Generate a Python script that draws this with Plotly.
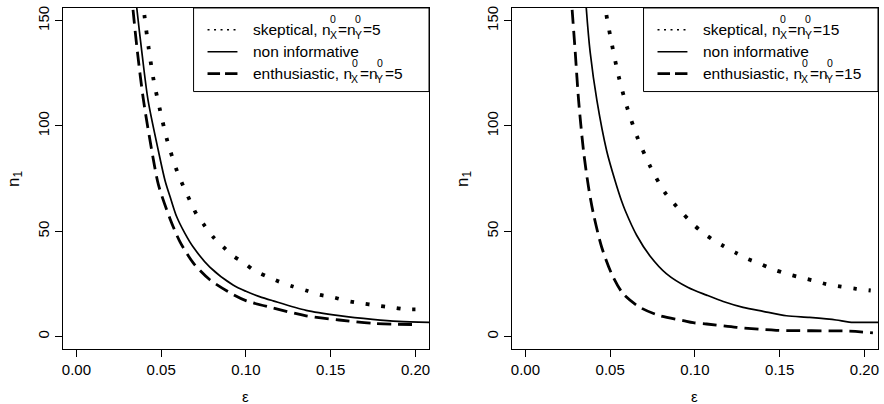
import plotly.graph_objects as go

W, H = 884, 404

# ---------------- data ----------------
# left panel: n0_X = n0_Y = 5
eps_L_skep = [0.0392, 0.0401, 0.0425, 0.0454, 0.0494, 0.0537, 0.0595, 0.0631, 0.0670, 0.0709,
              0.0758, 0.0807, 0.0865, 0.0924, 0.0989, 0.1053, 0.1126, 0.1199, 0.1277, 0.1355,
              0.1430, 0.1518, 0.1594, 0.1682, 0.1769, 0.1855, 0.1940, 0.2035]
n_L_skep = [160, 152.6, 137.6, 122.4, 107.2, 92.7, 78.2, 71.3, 64.5, 58.0,
            52.5, 47.3, 42.7, 38.3, 35.0, 31.2, 28.5, 26.0, 23.8, 21.9,
            19.9, 18.6, 17.0, 15.8, 14.8, 13.9, 13.0, 12.9]

eps_L_noninf = [0.0345, 0.0356, 0.0386, 0.0423, 0.0484, 0.0523, 0.0558, 0.0591, 0.0640, 0.0689,
                0.0787, 0.0924, 0.1000, 0.1080, 0.1160, 0.1355, 0.1550, 0.1747, 0.1900, 0.2080]
n_L_noninf = [165, 156, 135, 112, 88, 74, 65, 57, 49, 42.5,
              33, 24.5, 21.5, 19, 17, 12.5, 10, 8.2, 7.2, 6.8]

eps_L_enth = [0.0325, 0.0333, 0.0360, 0.0396, 0.0454, 0.0484, 0.0552, 0.0611, 0.0689, 0.0787,
              0.0924, 0.1003, 0.1160, 0.1355, 0.1550, 0.1750, 0.2020]
n_L_enth = [165, 156, 135, 112, 84, 72, 56, 45, 35, 27,
            20, 17, 13.6, 9.9, 7.9, 6.3, 5.7]

# right panel: n0_X = n0_Y = 15
eps_R_skep = [0.0472, 0.0476, 0.0510, 0.0549, 0.0598, 0.0659, 0.0735, 0.0820, 0.0873, 0.0925,
              0.0980, 0.1039, 0.1102, 0.1171, 0.1239, 0.1310, 0.1384, 0.1459, 0.1535, 0.1618,
              0.1700, 0.1776, 0.1863, 0.1951, 0.2037]
n_R_skep = [160, 153.9, 138.9, 123.9, 109.3, 94.9, 81.0, 68.7, 63.5, 58.8,
            54.1, 49.8, 46.2, 42.9, 39.9, 36.9, 34.6, 32.0, 30.0, 28.2,
            26.6, 24.9, 23.7, 22.7, 21.9]

eps_R_noninf = [0.0352, 0.0359, 0.0382, 0.0422, 0.0480, 0.0529, 0.0569, 0.0588, 0.0657, 0.0735,
                0.0833, 0.0960, 0.1069, 0.1167, 0.1284, 0.1402, 0.1540, 0.1676, 0.1833, 0.1910, 0.2080]
n_R_noninf = [165, 156, 135, 112, 88, 74, 64, 60, 48, 38.3,
              29.8, 23.3, 19.7, 16.7, 13.9, 12.0, 9.9, 9.1, 7.9, 6.9, 6.8]

eps_R_enth = [0.0268, 0.0275, 0.0294, 0.0314, 0.0343, 0.0373, 0.0402, 0.0451, 0.0510, 0.0578,
              0.0676, 0.0794, 0.0931, 0.0990, 0.1069, 0.1245, 0.1480, 0.1910, 0.2050]
n_R_enth = [165, 156, 135, 112, 88, 70.6, 58, 42.2, 29.6, 20.2,
            13.9, 9.9, 7.6, 6.6, 6.0, 4.4, 3.0, 2.6, 1.8]

x_ticks = [0.00, 0.05, 0.10, 0.15, 0.20]
y_ticks = [0, 50, 100, 150]
x_range = [-0.008, 0.208]
y_range = [-6, 156]

legend_labels = [("skeptical, n", "=n", "=5"), "non informative", ("enthusiastic, n", "=n", "=5")]
legend_labels_R = [("skeptical, n", "=n", "=15"), "non informative", ("enthusiastic, n", "=n", "=15")]

# ---------------- styles ----------------
FONT = "Liberation Sans"
DOT = dict(color="black", width=3.8, dash="3.6px,12px", shape="spline", smoothing=0.8)
SOLID = dict(color="black", width=1.7, shape="spline", smoothing=0.8)
DASH = dict(color="black", width=2.8, dash="14px,7px", shape="spline", smoothing=0.8)

fig = go.Figure()
for xa, ya, series in [
    ("x", "y", [(eps_L_skep, n_L_skep, DOT), (eps_L_noninf, n_L_noninf, SOLID), (eps_L_enth, n_L_enth, DASH)]),
    ("x2", "y2", [(eps_R_skep, n_R_skep, DOT), (eps_R_noninf, n_R_noninf, SOLID), (eps_R_enth, n_R_enth, DASH)]),
]:
    for ex, ny, st in series:
        fig.add_trace(go.Scatter(x=ex, y=ny, mode="lines", line=st, xaxis=xa, yaxis=ya,
                                 showlegend=False, hoverinfo="skip"))

def px(x):
    return x / W

def py(y):
    return 1 - y / H

axis_common = dict(showgrid=False, zeroline=False, showline=True, mirror=True, linecolor="black",
                   linewidth=1, ticks="outside", ticklen=7, tickwidth=1, tickcolor="black",
                   tickfont=dict(family=FONT, size=15, color="black"))

fig.update_layout(
    width=W, height=H, margin=dict(l=0, r=0, t=0, b=0),
    paper_bgcolor="white", plot_bgcolor="white",
    xaxis=dict(domain=[px(62), px(429)], range=x_range, tickvals=x_ticks, tickformat=".2f", anchor="y", **axis_common),
    yaxis=dict(domain=[py(349), py(6)], range=y_range, tickvals=y_ticks, tickangle=-90, anchor="x", **axis_common),
    xaxis2=dict(domain=[px(512), px(879)], range=x_range, tickvals=x_ticks, tickformat=".2f", anchor="y2", **axis_common),
    yaxis2=dict(domain=[py(349), py(6)], range=y_range, tickvals=y_ticks, tickangle=-90, anchor="x2", **axis_common),
)

annotations = []
shapes = []

# axis titles
for cx_plot, cx_ylab in [(245.5, 14), (695.5, 464)]:
    annotations.append(dict(text="ε", x=px(cx_plot), y=py(396), xref="paper", yref="paper",
                            showarrow=False, font=dict(family=FONT, size=15, color="black"),
                            xanchor="center", yanchor="middle"))
    annotations.append(dict(text="n<sub>1</sub>", x=px(cx_ylab), y=py(178), xref="paper", yref="paper",
                            showarrow=False, textangle=-90, font=dict(family=FONT, size=17, color="black"),
                            xanchor="center", yanchor="middle"))

# simple Helvetica/Arial width table (per 1000 em)
CW = {' ': 278, ',': 278, '=': 584, 'a': 556, 'c': 500, 'e': 556, 'f': 278, 'h': 556, 'i': 222,
      'k': 500, 'l': 222, 'm': 833, 'n': 556, 'o': 556, 'p': 556, 'r': 333, 's': 500, 't': 278,
      'u': 556, 'v': 500, 'X': 667, 'Y': 667}
for d in "0123456789":
    CW[d] = 556

def tw(s, size):
    return sum(CW.get(c, 556) for c in s) / 1000 * size

LS = 15.5   # legend font size
SS = 10.5   # script size

def legend(box_left, box_right, labels):
    shapes.append(dict(type="rect", xref="paper", yref="paper", x0=px(box_left), x1=px(box_right),
                       y0=py(90), y1=py(6), line=dict(color="black", width=1), fillcolor="white", layer="above"))
    rows = [28, 50, 72]
    styles = [dict(color="black", width=1.5, dash="2px,4.5px"), dict(color="black", width=1.5),
              dict(color="black", width=2.6, dash="12.5px,5px")]
    for r, st, lab in zip(rows, styles, labels):
        shapes.append(dict(type="line", xref="paper", yref="paper", x0=px(box_left + 14), x1=px(box_left + 44),
                           y0=py(r), y1=py(r), line=st, layer="above"))
        x = box_left + 59
        if isinstance(lab, str):
            annotations.append(dict(text=lab, x=px(x), y=py(r), xref="paper", yref="paper", showarrow=False,
                                    xanchor="left", yanchor="middle", font=dict(family=FONT, size=LS, color="black")))
            continue
        main, mid, end = lab
        pieces = [(main, None), ("X", "0"), (mid, None), ("Y", "0"), (end, None)]
        for txt, sup in pieces:
            if sup is None:
                annotations.append(dict(text=txt, x=px(x), y=py(r), xref="paper", yref="paper", showarrow=False,
                                        xanchor="left", yanchor="middle",
                                        font=dict(family=FONT, size=LS, color="black")))
                x += tw(txt, LS)
            else:
                wcol = max(tw(txt, SS), tw(sup, SS))
                annotations.append(dict(text=sup, x=px(x + wcol / 2), y=py(r - 11), xref="paper", yref="paper",
                                        showarrow=False, xanchor="center", yanchor="middle",
                                        font=dict(family=FONT, size=SS, color="black")))
                annotations.append(dict(text=txt, x=px(x + wcol / 2), y=py(r + 5), xref="paper", yref="paper",
                                        showarrow=False, xanchor="center", yanchor="middle",
                                        font=dict(family=FONT, size=SS, color="black")))
                x += wcol + 0.5

legend(193, 429, legend_labels)
legend(644, 879, legend_labels_R)

for a in annotations:
    a.setdefault("borderpad", 0)

fig.update_layout(annotations=annotations, shapes=shapes)
fig.write_html("out.html")
